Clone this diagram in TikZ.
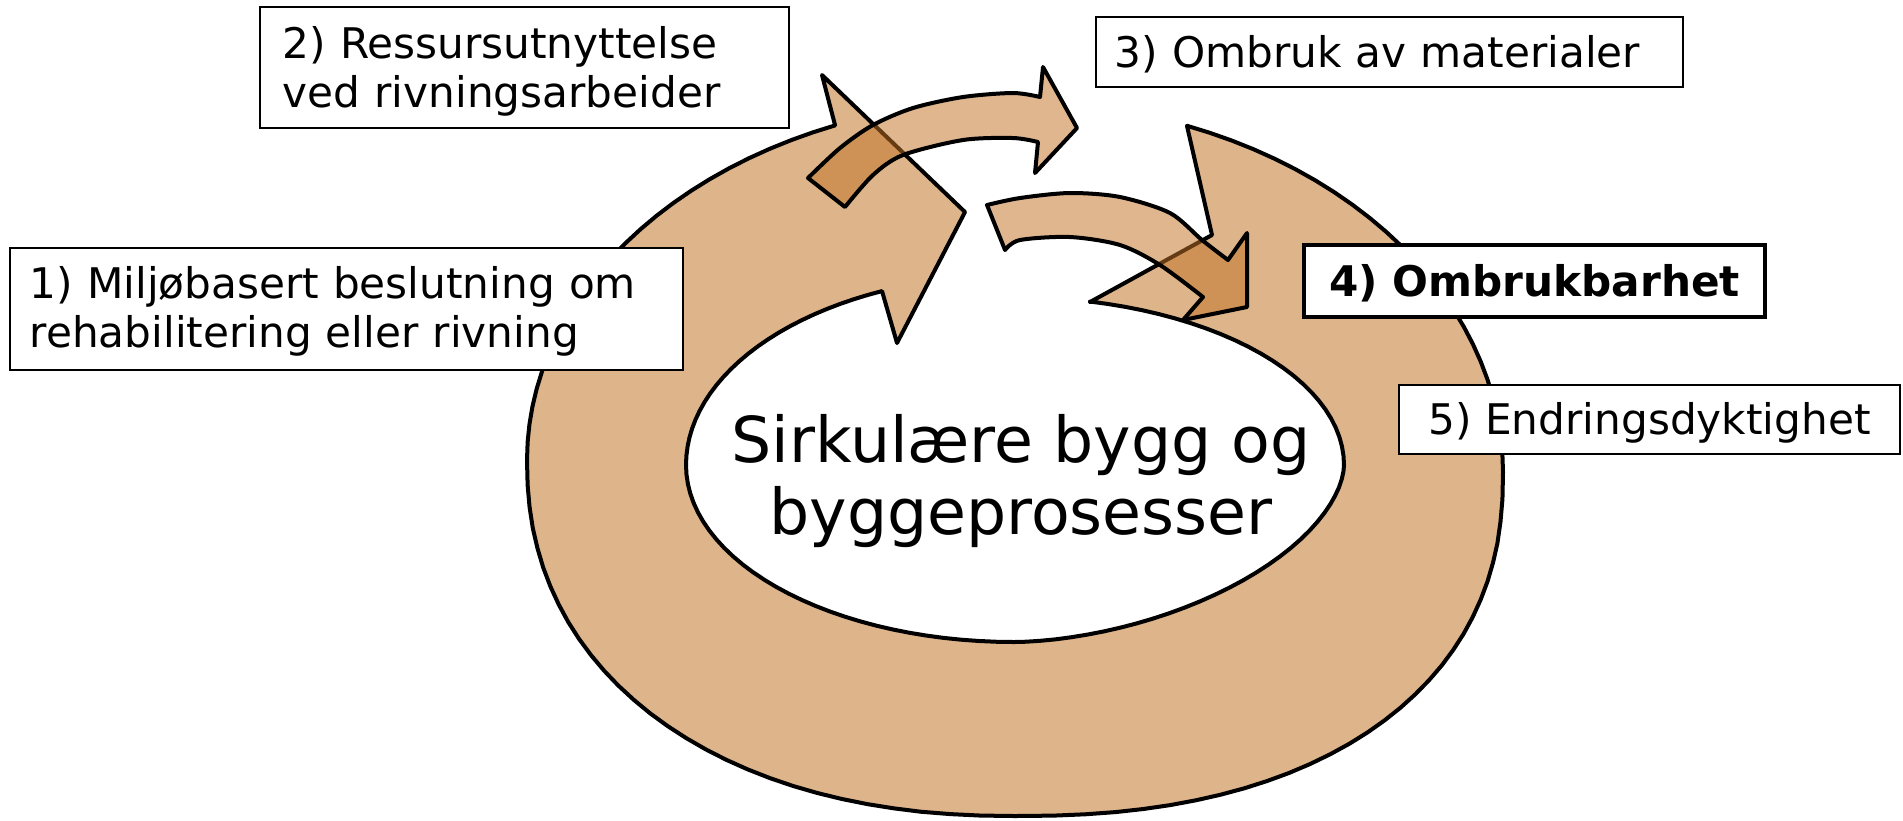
\documentclass[tikz,border=0pt]{standalone}
\usepackage{fontspec}
\setmainfont{DejaVu Sans}
\definecolor{ringfill}{RGB}{222,180,138}
\definecolor{pilfill}{RGB}{195,115,40}
\begin{document}
\begin{tikzpicture}[x=0.01cm, y=-0.01cm,
    ring/.style={fill=ringfill, draw=black, line width=0.04cm, line join=round},
    pil/.style={fill=pilfill, fill opacity=0.52, draw=black, draw opacity=1, line width=0.04cm, line join=round},
    boks/.style={draw=black, fill=white, line width=0.02cm, inner ysep=0pt, font=\fontsize{12}{14.2}\selectfont},
    enlinje/.style={text height=0.37cm, text depth=0.07cm}]
                \useasboundingbox (0,0) rectangle (1903,820);

                % Drawing ring arrow (tail, inner edge, head, outer edge)
                \draw [ring] (1187,126) -- (1212,235) -- (1090,302)
                  -- plot [domain=-76.7:0, samples=25] ({1014+330*cos(\x)}, {465+168*sin(\x)})
                  -- plot [domain=0:90, samples=30] ({1014+330*pow(abs(cos(\x))+0.00001,1.1429)}, {465+177*pow(abs(sin(\x))+0.00001,1.1429)})
                  -- plot [domain=90:180, samples=30] ({1014+328*cos(\x)}, {465+177*sin(\x)})
                  -- plot [domain=180:246.27, samples=25] ({1014+328*cos(\x)}, {465+190*sin(\x)})
                  -- (897,343) -- (965,212) -- (822,75) -- (835,125)
                  -- plot [domain=248.35:180, samples=25] ({1015+488*cos(\x)}, {460+360*sin(\x)})
                  -- plot [domain=180:90, samples=30] ({1015-488*pow(abs(cos(\x))+0.00001,0.9091)}, {460+356*pow(abs(sin(\x))+0.00001,0.9091)})
                  -- plot [domain=90:0, samples=30] ({1015+488*pow(abs(cos(\x))+0.00001,0.8696)}, {472+344*pow(abs(sin(\x))+0.00001,0.8696)})
                  -- plot [domain=0:-69.36, samples=25] ({1015+488*cos(\x)}, {472+370*sin(\x)})
                  -- cycle;%

                % Drawing arrow 2 to 3
                \draw [pil] (808,178) -- plot [smooth] coordinates {(808,178) (840,148) (873,125) (913,108) (963,97) (1013,93) (1040,97)}
                  -- (1043,67) -- (1077,128) -- (1035,173) -- (1038,142)
                  -- plot [smooth] coordinates {(1038,142) (1013,138) (963,140) (903,155) (873,175) (845,207)} -- cycle;%

                % Drawing arrow 3 to 4
                \draw [pil] (987,205) -- plot [smooth] coordinates {(987,205) (1020,198) (1070,193) (1120,197) (1170,213) (1202,240) (1228,260)}
                  -- (1247,233) -- (1247,307) -- (1183,320) -- (1203,297)
                  -- plot [smooth] coordinates {(1203,297) (1160,265) (1120,245) (1070,237) (1020,240) (1005,250)} -- cycle;%

                % Marking centre text
                \node (sirkulaer) [align=center, font=\fontsize{18}{20.2}\selectfont] at (1021,481) {Sirkulære bygg og\\byggeprosesser};%

                % Marking box 1
                \node (beslutning) [boks, align=left, text width=6.33cm, inner xsep=0.2cm, text height=0.50cm, text depth=0.72cm, minimum height=1.22cm] at (346.5,309) {1) Miljøbasert beslutning om\\rehabilitering eller rivning};%

                % Marking box 2
                \node (ressurs) [boks, align=left, text width=4.83cm, inner xsep=0.23cm, text height=0.51cm, text depth=0.70cm, minimum height=1.21cm] at (524.5,67.5) {2) Ressursutnyttelse\\ved rivningsarbeider};%

                % Marking box 3
                \node (ombruk) [boks, enlinje, align=left, text width=5.49cm, inner xsep=0.19cm, minimum height=0.70cm] at (1389.5,52) {3) Ombruk av materialer};%

                % Marking box 4
                \node (ombrukbarhet) [boks, enlinje, line width=0.045cm, minimum width=4.61cm, minimum height=0.72cm, font=\fontsize{12}{14.2}\selectfont\bfseries] at (1534.5,281) {4) Ombrukbarhet};%

                % Marking box 5
                \node (endring) [boks, enlinje, minimum width=5.01cm, minimum height=0.69cm] at (1649.5,419.5) {5) Endringsdyktighet};%
\end{tikzpicture}
\end{document}
